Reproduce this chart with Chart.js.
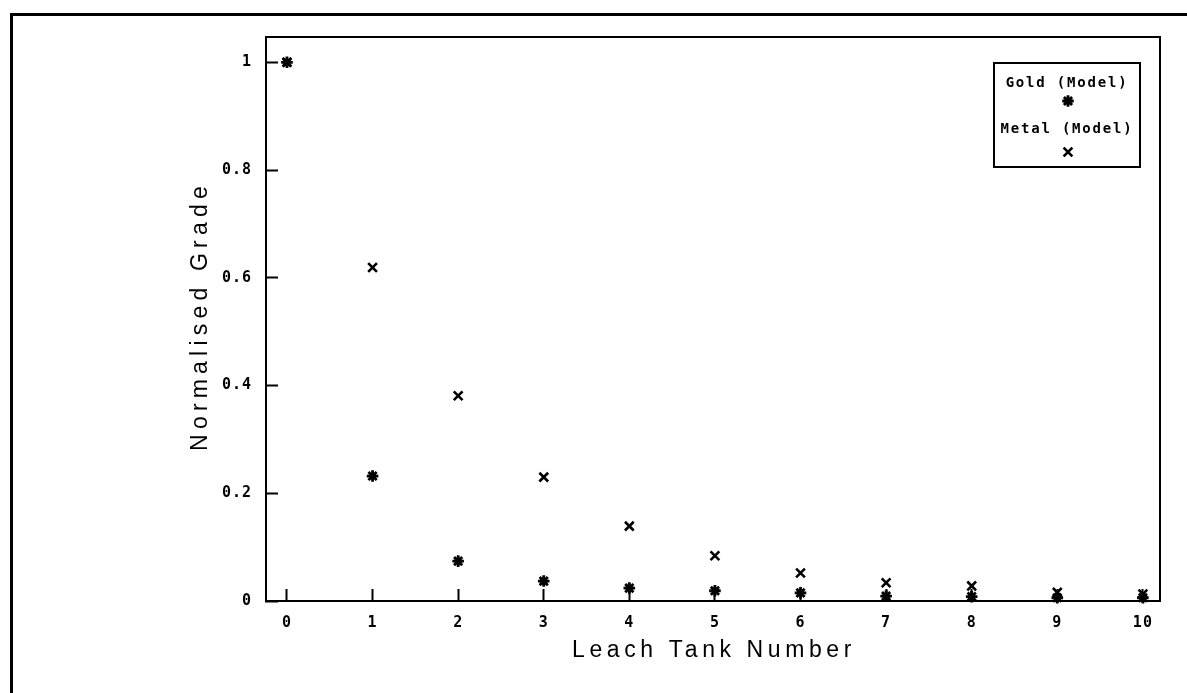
<!DOCTYPE html>
<html>
<head>
<meta charset="utf-8">
<script src="https://cdn.jsdelivr.net/npm/chart.js@4/dist/chart.umd.min.js"></script>
<style>
  html, body { margin: 0; padding: 0; background: #fff; }
  #wrap { position: relative; width: 1187px; height: 693px; }
  #frame { position: absolute; left: 10px; top: 13px; right: 0; bottom: 0;
           border-left: 3px solid #000; border-top: 3px solid #000; pointer-events: none; }
  canvas { position: absolute; left: 0; top: 0; }
</style>
</head>
<body>
<div id="wrap">
  <canvas id="c" width="1187" height="693"></canvas>
  <div id="frame"></div>
</div>
<script>
// ---- data ----
const tanks = [0, 1, 2, 3, 4, 5, 6, 7, 8, 9, 10];
const goldModel = [1, 0.232, 0.074, 0.037, 0.024, 0.019, 0.015, 0.009, 0.008, 0.006, 0.006];
const metalModel = [1, 0.619, 0.381, 0.230, 0.139, 0.084, 0.052, 0.034, 0.028, 0.016, 0.013];
const seriesLabels = ['Gold (Model)', 'Metal (Model)'];
const xTitle = 'Leach Tank Number';
const yTitle = 'Normalised Grade';

const tickFont = { family: 'DejaVu Sans Mono', size: 15, weight: 'bold' };

const pts = (ys) => tanks.map((t, i) => ({ x: t, y: ys[i] }));

const framePlugin = {
  id: 'framePlugin',
  beforeDraw(chart) {
    chart.ctx.letterSpacing = '1px';
  },
  afterDraw(chart) {
    const ctx = chart.ctx;
    const a = chart.chartArea;
    ctx.save();
    // plot frame
    ctx.strokeStyle = '#000';
    ctx.lineWidth = 2;
    ctx.strokeRect(a.left, a.top, a.right - a.left, a.bottom - a.top);

    // axis titles
    ctx.fillStyle = '#000';
    ctx.font = '23px "Liberation Sans"';
    ctx.letterSpacing = '4.6px';
    ctx.textAlign = 'center';
    ctx.textBaseline = 'middle';
    ctx.fillText(xTitle, 714, 651);
    ctx.save();
    ctx.translate(201, 316);
    ctx.rotate(-Math.PI / 2);
    ctx.letterSpacing = '5.2px';
    ctx.fillText(yTitle, 0, 0);
    ctx.restore();

    // legend box
    const bx = 994, by = 63, bw = 146, bh = 104;
    ctx.lineWidth = 2;
    ctx.strokeRect(bx, by, bw, bh);
    ctx.font = 'bold 14px "DejaVu Sans Mono"';
    ctx.letterSpacing = '1.8px';
    const cx = 1067;
    const rows = [[83, 101], [129, 152]];
    chart.data.datasets.forEach((ds, i) => {
      ctx.fillStyle = '#000';
      ctx.fillText(ds.label, cx, rows[i][0]);
      ctx.strokeStyle = ds.borderColor;
      ctx.fillStyle = ds.backgroundColor;
      ctx.lineWidth = ds.borderWidth;
      Chart.helpers.drawPoint(ctx, { pointStyle: ds.pointStyle, radius: ds.pointRadius, borderWidth: ds.borderWidth, rotation: 0 }, cx + 1, rows[i][1]);
    });
    ctx.restore();
  }
};

new Chart(document.getElementById('c'), {
  type: 'scatter',
  data: {
    datasets: [
      {
        label: seriesLabels[0],
        data: pts(goldModel),
        pointStyle: 'star',
        pointRadius: 5.8,
        borderWidth: 2.8,
        borderColor: '#000',
        backgroundColor: '#000',
        clip: false
      },
      {
        label: seriesLabels[1],
        data: pts(metalModel),
        pointStyle: 'crossRot',
        pointRadius: 6.2,
        borderWidth: 2.6,
        borderColor: '#000',
        backgroundColor: '#000',
        clip: false
      }
    ]
  },
  options: {
    responsive: false,
    animation: false,
    events: [],
    layout: { padding: { top: 37, right: 27, left: 0, bottom: 0 } },
    plugins: { legend: { display: false }, tooltip: { enabled: false } },
    scales: {
      x: {
        type: 'linear',
        min: -0.245,
        max: 10.2,
        afterFit(s) { s.height = 92; },
        border: { display: true, color: '#000', width: 2 },
        grid: { display: true, drawOnChartArea: false, drawTicks: true, tickLength: -12, tickWidth: 2, tickColor: '#000' },
        ticks: { stepSize: 1, includeBounds: false, autoSkip: false, maxRotation: 0, color: '#000', font: tickFont, padding: 25 }
      },
      y: {
        type: 'linear',
        min: 0,
        max: 1.047,
        afterFit(s) { s.width = 266; },
        border: { display: true, color: '#000', width: 2 },
        grid: { display: true, drawOnChartArea: false, drawTicks: true, tickLength: -12, tickWidth: 2, tickColor: '#000' },
        ticks: {
          stepSize: 0.2, includeBounds: false, color: '#000', font: tickFont, padding: 26,
          callback: (v) => String(+v.toFixed(1))
        }
      }
    }
  },
  plugins: [framePlugin]
});
</script>
</body>
</html>
